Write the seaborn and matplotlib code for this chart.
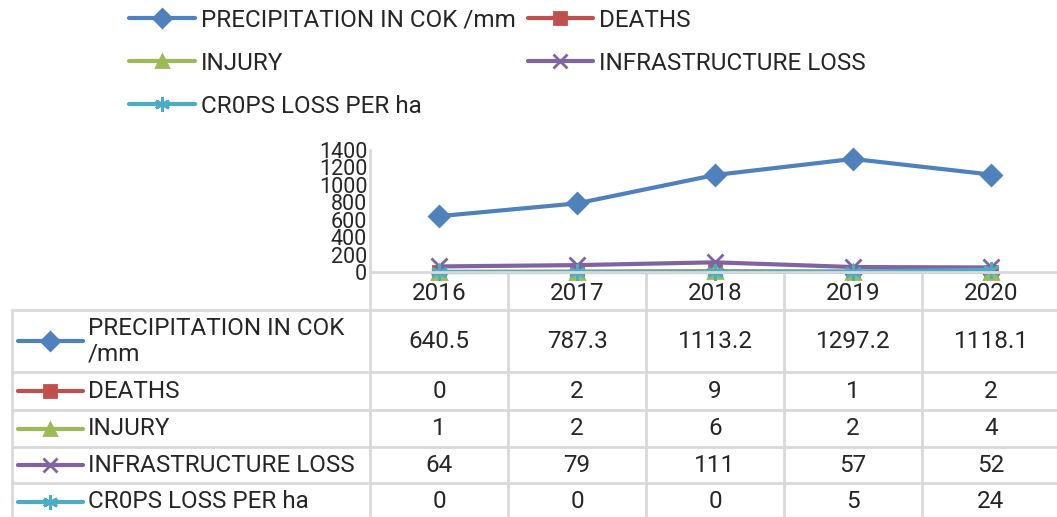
import numpy as np
import pandas as pd
import seaborn as sns
import matplotlib.pyplot as plt
from matplotlib.lines import Line2D
from matplotlib.transforms import blended_transform_factory

years = ['2016', '2017', '2018', '2019', '2020']
precipitation = [640.5, 787.3, 1113.2, 1297.2, 1118.1]
deaths = [0, 2, 9, 1, 2]
injury = [1, 2, 6, 2, 4]
infrastructure = [64, 79, 111, 57, 52]
crops = [0, 0, 0, 5, 24]

labels = ['PRECIPITATION IN COK /mm', 'DEATHS', 'INJURY', 'INFRASTRUCTURE LOSS', 'CR0PS LOSS PER ha']
table_labels = ['PRECIPITATION IN COK\n/mm', 'DEATHS', 'INJURY', 'INFRASTRUCTURE LOSS', 'CR0PS LOSS PER ha']
values = [precipitation, deaths, injury, infrastructure, crops]
value_text = [['640.5', '787.3', '1113.2', '1297.2', '1118.1']] + [[str(v) for v in s] for s in values[1:]]
colors = ['#4F81BD', '#C0504D', '#9BBB59', '#8064A2', '#4BACC6']
markers = ['D', 's', '^', 'x', (6, 2, 0)]
msizes = [10, 9, 10, 11, 12]

sns.set_theme(style='white')
plt.rcParams['font.family'] = ['Roboto', 'DejaVu Sans']
FS = 17.5
GRID = '#D9D9D9'

W, H = 1057, 517
fig = plt.figure(figsize=(W / 100, H / 100), dpi=100)

# background layer in pixel coords for the table grid
ov = fig.add_axes([0, 0, 1, 1], zorder=0)
ov.set_xlim(0, W)
ov.set_ylim(H, 0)
ov.axis('off')

ax = fig.add_axes([370 / W, 1 - 272 / H, (1060 - 370) / W, (272 - 150) / H], zorder=1)
ax.patch.set_alpha(0)

pos = np.arange(len(years))
for s, lab, c, m, ms in zip(values, labels, colors, markers, msizes):
    sns.lineplot(x=pos, y=s, ax=ax, color=c, linewidth=3, marker=m, markersize=ms,
                 mec=c, mfc=c, mew=2, legend=False, clip_on=False)

ax.set_xlim(-0.5, len(years) - 0.5)
ax.set_ylim(0, 1400)
ax.set_yticks(np.arange(0, 1401, 200))
ax.set_xticks(pos)
ax.set_xticklabels(years)
ax.tick_params(axis='y', length=0, pad=2, labelsize=15.5)
ax.tick_params(axis='x', length=0, pad=7, labelsize=FS)
for side in ['top', 'right', 'left']:
    ax.spines[side].set_visible(False)
ax.spines['bottom'].set_color(GRID)
ax.spines['bottom'].set_linewidth(2)
ax.set_xlabel('')
ax.set_ylabel('')

# table grid
tr = blended_transform_factory(ax.transData, ov.transData)
row_edges = [310, 372, 410, 447, 483, 520]
ov.plot([370, 370], [150, H], color=GRID, lw=2)
for i in range(1, len(years) + 1):
    ov.plot([i - 0.5, i - 0.5], [272, H], color=GRID, lw=2, transform=tr)
for y in row_edges[:-1]:
    ov.plot([12, W], [y, y], color=GRID, lw=2)
ov.plot([12, 12], [310, H], color=GRID, lw=2)

for r in range(len(values)):
    yc = (row_edges[r] + row_edges[r + 1]) / 2
    ov.plot([18, 83], [yc, yc], color=colors[r], lw=3)
    ov.plot([50], [yc], color=colors[r], marker=markers[r], markersize=msizes[r] * 0.9,
            mec=colors[r], mfc=colors[r], mew=2)
    ov.text(88, yc, table_labels[r], fontsize=FS, ha='left', va='center', linespacing=1.12)
    for i, t in enumerate(value_text[r]):
        ov.text(i, yc, t, fontsize=FS, ha='center', va='center', transform=tr)

# legend
order = [0, 2, 4, 1, 3]
handles = [Line2D([], [], color=colors[k], lw=3, marker=markers[k], markersize=msizes[k] * 0.9,
                  mec=colors[k], mfc=colors[k], mew=2) for k in order]
fig.legend(handles, [labels[k] for k in order], ncol=2, loc='upper left',
           bbox_to_anchor=(107 / W, 1 + 13 / H), frameon=False, fontsize=FS,
           handlelength=2.7, handletextpad=0.25, columnspacing=0.5, labelspacing=0.82)

fig.savefig('out.png', dpi=100)
